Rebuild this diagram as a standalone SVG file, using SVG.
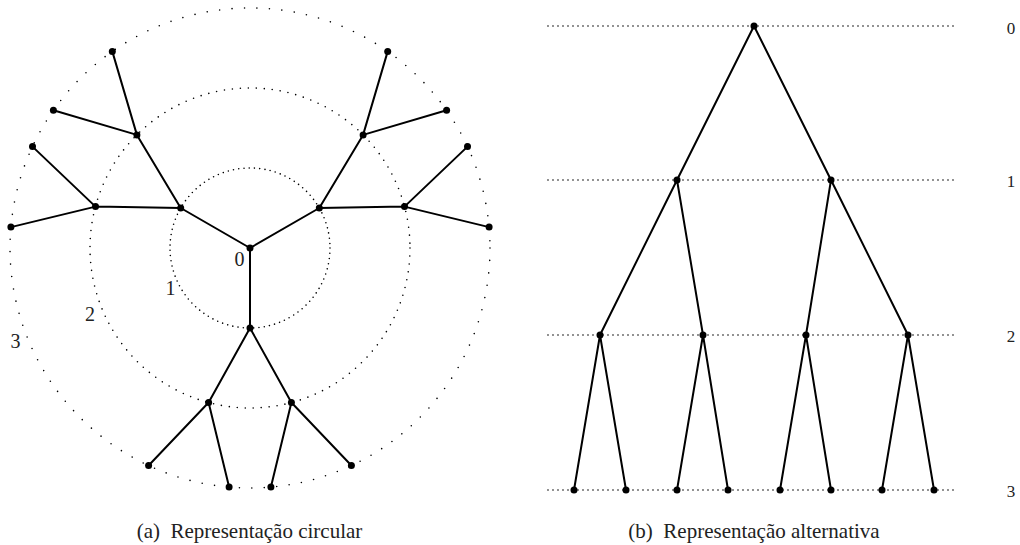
<svg xmlns="http://www.w3.org/2000/svg" width="1020" height="545" viewBox="0 0 1020 545">
<style>
.e{stroke:#000;stroke-width:2;fill:none}
.d{stroke:#000;stroke-width:1.6;fill:none;stroke-linecap:round}
.n{fill:#000}
text{font-family:'Liberation Serif','Times New Roman','DejaVu Serif',serif;fill:#222}
</style>
<rect width="1020" height="545" fill="#fff"/>
<g id="guides">
<circle class="d" cx="250" cy="248" r="80" stroke-dasharray="0 5.29"/>
<circle class="d" cx="250" cy="248" r="160" stroke-dasharray="0 8"/>
<circle class="d" cx="250" cy="248" r="240" stroke-dasharray="0 12.5"/>
<line class="d" x1="548" y1="26" x2="957" y2="26" stroke-dasharray="0 5"/>
<line class="d" x1="548" y1="180" x2="957" y2="180" stroke-dasharray="0 5"/>
<line class="d" x1="548" y1="335" x2="957" y2="335" stroke-dasharray="0 5"/>
<line class="d" x1="548" y1="490" x2="957" y2="490" stroke-dasharray="0 5"/>
</g>
<g id="connectors">
<path class="e" d="M250,248L250,328M250,248L180.7,208M250,248L319.3,208
M250,328L291.4,402.5M250,328L208.6,402.5
M180.7,208L95.5,206.6M180.7,208L136.9,134.9
M319.3,208L363.1,134.9M319.3,208L404.5,206.6
M95.5,206.6L10.9,227.1M95.5,206.6L32.5,146.6
M136.9,134.9L53.4,110.3M136.9,134.9L112.3,51.4
M363.1,134.9L387.7,51.4M363.1,134.9L446.6,110.3
M404.5,206.6L467.5,146.6M404.5,206.6L489.1,227.1
M291.4,402.5L351.4,465.5M291.4,402.5L270.9,487.1
M208.6,402.5L229.1,487.1M208.6,402.5L148.6,465.5"/>
<path class="e" d="M754,26L677,180M754,26L831,180
M677,180L600,335M677,180L703,335M831,180L806,335M831,180L908,335
M600,335L574,490M600,335L626,490M703,335L677,490M703,335L728,490
M806,335L780,490M806,335L831,490M908,335L882,490M908,335L934,490"/>
</g>
<g id="circular-nodes" class="n">
<circle id="c0" cx="250" cy="248" r="3.5"/>
<circle id="c1a" cx="250" cy="328" r="3.5"/>
<circle id="c1b" cx="180.7" cy="208" r="3.5"/>
<circle id="c1c" cx="319.3" cy="208" r="3.5"/>
<circle id="c2a" cx="291.4" cy="402.5" r="3.5"/>
<circle id="c2b" cx="208.6" cy="402.5" r="3.5"/>
<circle id="c2c" cx="95.5" cy="206.6" r="3.5"/>
<circle id="c2d" cx="136.9" cy="134.9" r="3.5"/>
<circle id="c2e" cx="363.1" cy="134.9" r="3.5"/>
<circle id="c2f" cx="404.5" cy="206.6" r="3.5"/>
<circle id="c3a" cx="351.4" cy="465.5" r="3.5"/>
<circle id="c3b" cx="270.9" cy="487.1" r="3.5"/>
<circle id="c3c" cx="229.1" cy="487.1" r="3.5"/>
<circle id="c3d" cx="148.6" cy="465.5" r="3.5"/>
<circle id="c3e" cx="10.9" cy="227.1" r="3.5"/>
<circle id="c3f" cx="32.5" cy="146.6" r="3.5"/>
<circle id="c3g" cx="53.4" cy="110.3" r="3.5"/>
<circle id="c3h" cx="112.3" cy="51.4" r="3.5"/>
<circle id="c3i" cx="387.7" cy="51.4" r="3.5"/>
<circle id="c3j" cx="446.6" cy="110.3" r="3.5"/>
<circle id="c3k" cx="467.5" cy="146.6" r="3.5"/>
<circle id="c3l" cx="489.1" cy="227.1" r="3.5"/>
</g>
<g id="alt-nodes" class="n">
<circle id="a0" cx="754" cy="26" r="3.5"/>
<circle id="a1a" cx="677" cy="180" r="3.5"/>
<circle id="a1b" cx="831" cy="180" r="3.5"/>
<circle id="a2a" cx="600" cy="335" r="3.5"/>
<circle id="a2b" cx="703" cy="335" r="3.5"/>
<circle id="a2c" cx="806" cy="335" r="3.5"/>
<circle id="a2d" cx="908" cy="335" r="3.5"/>
<circle id="a3a" cx="574" cy="490" r="3.5"/>
<circle id="a3b" cx="626" cy="490" r="3.5"/>
<circle id="a3c" cx="677" cy="490" r="3.5"/>
<circle id="a3d" cx="728" cy="490" r="3.5"/>
<circle id="a3e" cx="780" cy="490" r="3.5"/>
<circle id="a3f" cx="831" cy="490" r="3.5"/>
<circle id="a3g" cx="882" cy="490" r="3.5"/>
<circle id="a3h" cx="934" cy="490" r="3.5"/>
</g>
<g id="labels" text-anchor="middle">
<text x="239.5" y="266" font-size="20">0</text>
<text x="170.5" y="295" font-size="20">1</text>
<text x="90" y="321" font-size="20">2</text>
<text x="15.5" y="348" font-size="20">3</text>
<text x="1011" y="33.5" font-size="17">0</text>
<text x="1011" y="187" font-size="17">1</text>
<text x="1011" y="342" font-size="17">2</text>
<text x="1011" y="497" font-size="17">3</text>
<text x="249.5" y="538" font-size="21">(a)&#160; Representação circular</text>
<text x="754" y="538" font-size="21">(b)&#160; Representação alternativa</text>
</g>
</svg>
